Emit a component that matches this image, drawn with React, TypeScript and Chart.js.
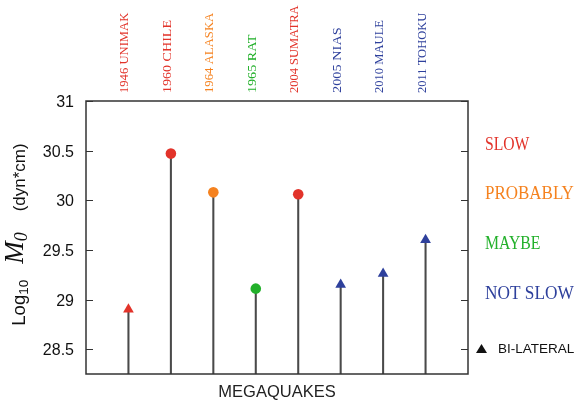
import React, { useEffect, useRef } from 'react';
import { Chart, registerables } from 'chart.js';

Chart.register(...registerables);

// ---- data ----
const quakeNames = [
  '1946 UNIMAK',
  '1960 CHILE',
  '1964 ALASKA',
  '1965 RAT',
  '2004 SUMATRA',
  '2005 NIAS',
  '2010 MAULE',
  '2011 TOHOKU',
];
const log10Moment = [28.9, 30.47, 30.08, 29.11, 30.06, 29.15, 29.26, 29.6];
const bilateral = [true, false, false, false, false, true, true, true];
const slowness = ['SLOW', 'SLOW', 'PROBABLY', 'MAYBE', 'SLOW', 'NOT SLOW', 'NOT SLOW', 'NOT SLOW'];
const slownessClasses = ['SLOW', 'PROBABLY', 'MAYBE', 'NOT SLOW'];
const yTickValues = [28.5, 29, 29.5, 30, 30.5, 31];
const yRange = [28.25, 31];
const xTitle = 'MEGAQUAKES';
const bilateralLabel = 'BI-LATERAL';

// ---- styles ----
const CLASS_COLORS: Record<string, string> = {
  SLOW: '#e2332a',
  PROBABLY: '#f5821f',
  MAYBE: '#22b02a',
  'NOT SLOW': '#2e409c',
};
const SANS = '"Liberation Sans", Arial, sans-serif';
const SERIF = '"Liberation Serif", "Times New Roman", serif';

// draw text squeezed/stretched to a monospace-like total width
function fitText(ctx: CanvasRenderingContext2D, text: string, x: number, y: number, advance: number) {
  const w = ctx.measureText(text).width;
  const target = text.length * advance;
  ctx.save();
  ctx.translate(x, y);
  ctx.scale(target / w, 1);
  ctx.fillText(text, 0, 0);
  ctx.restore();
}

const decorPlugin = {
  id: 'decor',
  afterDatasetsDraw(chart: any) {
    const { ctx, chartArea: a, scales } = chart;
    const ys = scales.y;
    const xs = scales.x;
    ctx.save();

    // frame
    ctx.strokeStyle = '#333';
    ctx.lineWidth = 1.5;
    ctx.strokeRect(a.left, a.top, a.right - a.left, a.bottom - a.top);

    // ticks + tick labels
    ctx.lineWidth = 1.2;
    ctx.fillStyle = '#111';
    ctx.font = `16px ${SANS}`;
    ctx.textAlign = 'right';
    ctx.textBaseline = 'middle';
    yTickValues.forEach((v) => {
      const y = Math.round(ys.getPixelForValue(v)) + 0.5;
      ctx.beginPath();
      ctx.moveTo(a.left, y);
      ctx.lineTo(a.left + 7, y);
      ctx.moveTo(a.right - 7, y);
      ctx.lineTo(a.right, y);
      ctx.stroke();
      ctx.fillText(String(v), a.left - 12, y + 1);
    });

    // y title: Log10 M0 (dyn*cm)
    const segs = [
      { t: 'Log', f: `18.5px ${SANS}`, dy: 0 },
      { t: '10', f: `13.5px ${SANS}`, dy: 3 },
      { t: '', f: '', dy: 0, gap: 16 },
      { t: 'M', f: `italic 27px ${SERIF}`, dy: -2 },
      { t: '0', f: `italic 18px ${SERIF}`, dy: 2 },
      { t: '', f: '', dy: 0, gap: 21 },
      { t: '(dyn*cm)', f: `17px ${SANS}`, dy: 0 },
    ];
    let total = 0;
    const widths = segs.map((s: any) => {
      if (!s.t) return s.gap;
      ctx.font = s.f;
      return ctx.measureText(s.t).width;
    });
    widths.forEach((w) => (total += w));
    ctx.save();
    ctx.translate(25, (a.top + a.bottom) / 2 - 3);
    ctx.rotate(-Math.PI / 2);
    ctx.textAlign = 'left';
    ctx.textBaseline = 'alphabetic';
    let cx = -total / 2;
    segs.forEach((s: any, i) => {
      if (s.t) {
        ctx.font = s.f;
        ctx.fillText(s.t, cx, s.dy);
      }
      cx += widths[i];
    });
    ctx.restore();

    // x title
    ctx.font = `16.5px ${SANS}`;
    ctx.textAlign = 'center';
    ctx.textBaseline = 'middle';
    ctx.fillStyle = '#222';
    ctx.fillText(xTitle, (a.left + a.right) / 2, a.bottom + 18);

    // category labels on top, rotated
    quakeNames.forEach((name, i) => {
      const x = xs.getPixelForValue(i + 1);
      ctx.save();
      ctx.translate(x, a.top - 8);
      ctx.rotate(-Math.PI / 2);
      ctx.font = `13.5px ${SERIF}`;
      ctx.textAlign = 'left';
      ctx.textBaseline = 'alphabetic';
      ctx.fillStyle = CLASS_COLORS[slowness[i]];
      fitText(ctx, name, 0, 0, 7.3);
      ctx.restore();
    });

    // right-side class legend
    ctx.font = `18px ${SERIF}`;
    ctx.textAlign = 'left';
    ctx.textBaseline = 'middle';
    slownessClasses.forEach((c, i) => {
      ctx.fillStyle = CLASS_COLORS[c];
      fitText(ctx, c, a.right + 17, a.top + 44 + i * 49.7, 11.1);
    });

    // bi-lateral legend
    const by = a.top + 248;
    const bx = a.right + 13.5;
    ctx.fillStyle = '#111';
    ctx.beginPath();
    ctx.moveTo(bx, by - 5);
    ctx.lineTo(bx + 5.5, by + 4);
    ctx.lineTo(bx - 5.5, by + 4);
    ctx.closePath();
    ctx.fill();
    ctx.font = `13.5px ${SANS}`;
    ctx.fillText(bilateralLabel, a.right + 30, by);

    ctx.restore();
  },
};

export default function App() {
  const ref = useRef<HTMLCanvasElement | null>(null);

  useEffect(() => {
    if (!ref.current) return;
    const markerPoints = quakeNames.map((_, i) => ({ x: i + 1, y: log10Moment[i] }));
    const stems = quakeNames.map((_, i) => ({ x: i + 1, y: [yRange[0], log10Moment[i]] }));
    const colors = slowness.map((s) => CLASS_COLORS[s]);

    const chart = new Chart(ref.current, {
      type: 'scatter',
      data: {
        datasets: [
          {
            type: 'scatter',
            data: markerPoints,
            pointStyle: bilateral.map((b) => (b ? 'triangle' : 'circle')),
            pointRadius: bilateral.map((b) => (b ? 6.2 : 5.3)),
            backgroundColor: colors,
            borderColor: colors,
            borderWidth: 0,
            order: 0,
          } as any,
          {
            type: 'bar',
            data: stems,
            backgroundColor: '#4a4a4a',
            borderWidth: 0,
            barThickness: 1.4,
            grouped: false,
            order: 1,
          } as any,
        ],
      },
      options: {
        animation: false,
        responsive: false,
        devicePixelRatio: 1,
        layout: { padding: { left: 86, right: 108, top: 101, bottom: 30 } },
        plugins: { legend: { display: false }, tooltip: { enabled: false } },
        scales: {
          x: { type: 'linear', min: 0, max: 9, offset: false, display: false },
          y: { type: 'linear', min: yRange[0], max: yRange[1], display: false },
        },
      } as any,
      plugins: [decorPlugin],
    });
    return () => chart.destroy();
  }, []);

  return (
    <div style={{ position: 'fixed', left: 0, top: 0, width: 576, height: 404, background: '#fff' }}>
      <canvas ref={ref} width={576} height={404} style={{ width: 576, height: 404, display: 'block' }} />
    </div>
  );
}
